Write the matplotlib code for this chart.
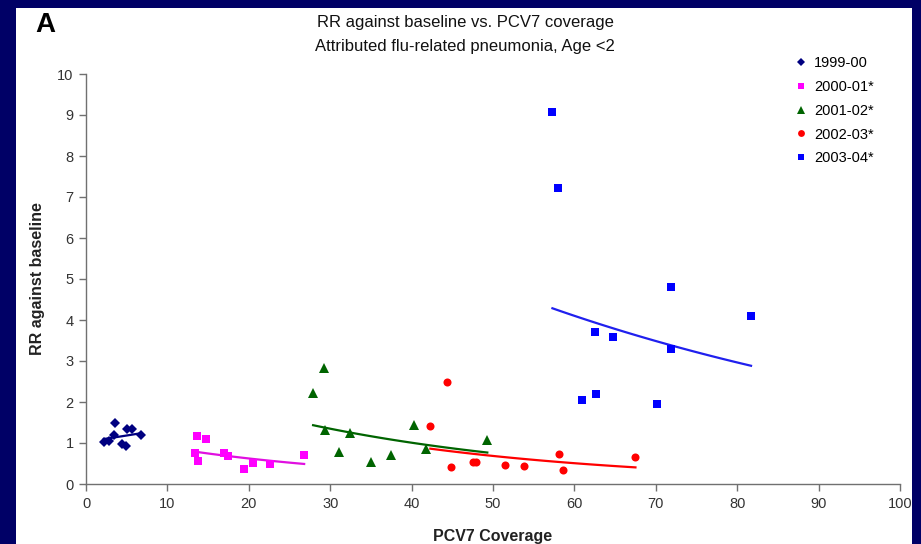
import numpy as np
import matplotlib
matplotlib.use("Agg")
import matplotlib.pyplot as plt
from matplotlib.patches import Rectangle
from matplotlib.lines import Line2D

plt.rcParams['font.family'] = ['Liberation Sans Narrow', 'Liberation Sans', 'DejaVu Sans']

# ---- data ----
x_9900 = [2.2, 2.8, 3.6, 3.5, 4.4, 4.9, 5.0, 5.6, 6.7]
y_9900 = [1.02, 1.06, 1.50, 1.20, 0.98, 0.92, 1.35, 1.35, 1.20]

x_0001 = [13.6, 14.7, 13.4, 13.7, 16.9, 17.5, 19.4, 20.5, 22.6, 26.8]
y_0001 = [1.17, 1.09, 0.75, 0.56, 0.76, 0.68, 0.37, 0.52, 0.49, 0.71]

x_0102 = [27.9, 29.2, 29.4, 32.4, 31.1, 35.0, 37.5, 40.3, 41.8, 49.3]
y_0102 = [2.21, 2.83, 1.32, 1.24, 0.79, 0.54, 0.71, 1.45, 0.85, 1.08]

x_0203 = [42.3, 44.3, 44.9, 47.5, 47.9, 51.5, 53.8, 58.1, 58.6, 67.5]
y_0203 = [1.41, 2.50, 0.42, 0.53, 0.53, 0.46, 0.44, 0.73, 0.34, 0.66]

x_0304 = [57.3, 58.0, 71.9, 81.7, 62.5, 64.8, 71.9, 60.9, 62.6, 70.1]
y_0304 = [9.08, 7.23, 4.81, 4.10, 3.70, 3.59, 3.29, 2.05, 2.19, 1.95]

labels = ['1999-00', '2000-01*', '2001-02*', '2002-03*', '2003-04*']
x_ticks = [0, 10, 20, 30, 40, 50, 60, 70, 80, 90, 100]
y_ticks = [0, 1, 2, 3, 4, 5, 6, 7, 8, 9, 10]

series = [
    (x_9900, y_9900, 'D', '#000080', '#000080', 5.2),
    (x_0001, y_0001, 's', '#FF00FF', '#E010E0', 5.6),
    (x_0102, y_0102, '^', '#006400', '#006400', 6.6),
    (x_0203, y_0203, 'o', '#FF0000', '#FF0000', 5.8),
    (x_0304, y_0304, 's', '#0000FF', '#2020EE', 5.6),
]

fig = plt.figure(figsize=(9.21, 5.44), dpi=100)
fig.patch.set_facecolor('#000066')
fig.patches.append(Rectangle((16/921, 0), (912-16)/921, 1 - 8/544,
                             transform=fig.transFigure, facecolor='white',
                             edgecolor='none', zorder=-10))

ax = fig.add_axes([86/921, 1 - 484/544, (900-86)/921, (484-74)/544])
ax.set_zorder(5)
ax.set_facecolor('white')
ax.patch.set_alpha(0.0)

handles = []
for xs, ys, mk, col, lcol, ms in series:
    xs = np.asarray(xs, float)
    ys = np.asarray(ys, float)
    ax.plot(xs, ys, linestyle='none', marker=mk, color=col, markersize=ms,
            markeredgewidth=0, zorder=3, clip_on=False)
    # exponential trendline (Excel style)
    b, a = np.polyfit(xs, np.log(ys), 1)
    xx = np.linspace(xs.min(), xs.max(), 50)
    ax.plot(xx, np.exp(a + b * xx), color=lcol, linewidth=1.6, zorder=2)
    handles.append(Line2D([], [], linestyle='none', marker=mk, color=col,
                          markersize=ms * 0.85, markeredgewidth=0))

ax.set_xlim(0, 100)
ax.set_ylim(0, 10)
ax.set_xticks(x_ticks)
ax.set_yticks(y_ticks)
for s in ['top', 'right']:
    ax.spines[s].set_visible(False)
for s in ['left', 'bottom']:
    ax.spines[s].set_color('#707070')
    ax.spines[s].set_linewidth(1.0)
ax.tick_params(direction='out', length=5, width=1.0, color='#707070',
               labelsize=10.5, labelcolor='#333333', pad=4)

ax.set_xlabel('PCV7 Coverage', fontsize=11.5, color='#222222', labelpad=13,
              fontweight='bold')
ax.set_ylabel('RR against baseline', fontsize=11.5, color='#222222', labelpad=9,
              fontweight='bold')

fig.text(465/921, 1 - 22/544, 'RR against baseline vs. PCV7 coverage',
         ha='center', va='center', fontsize=12, color='#111111')
fig.text(465/921, 1 - 47/544, 'Attributed flu-related pneumonia, Age <2',
         ha='center', va='center', fontsize=12, color='#111111')
fig.text(35/921, 1 - 25/544, 'A', ha='left', va='center', fontsize=20,
         fontweight='bold', color='black',
         family=['Liberation Sans', 'DejaVu Sans'])

fig.legend(handles, labels, loc='upper left',
           bbox_to_anchor=(789/921, 1 - 50/544), frameon=False,
           fontsize=10.5, handlelength=0.8, handletextpad=0.5,
           labelspacing=0.68, borderaxespad=0)

fig.savefig('out.png', dpi=100, facecolor=fig.get_facecolor())
